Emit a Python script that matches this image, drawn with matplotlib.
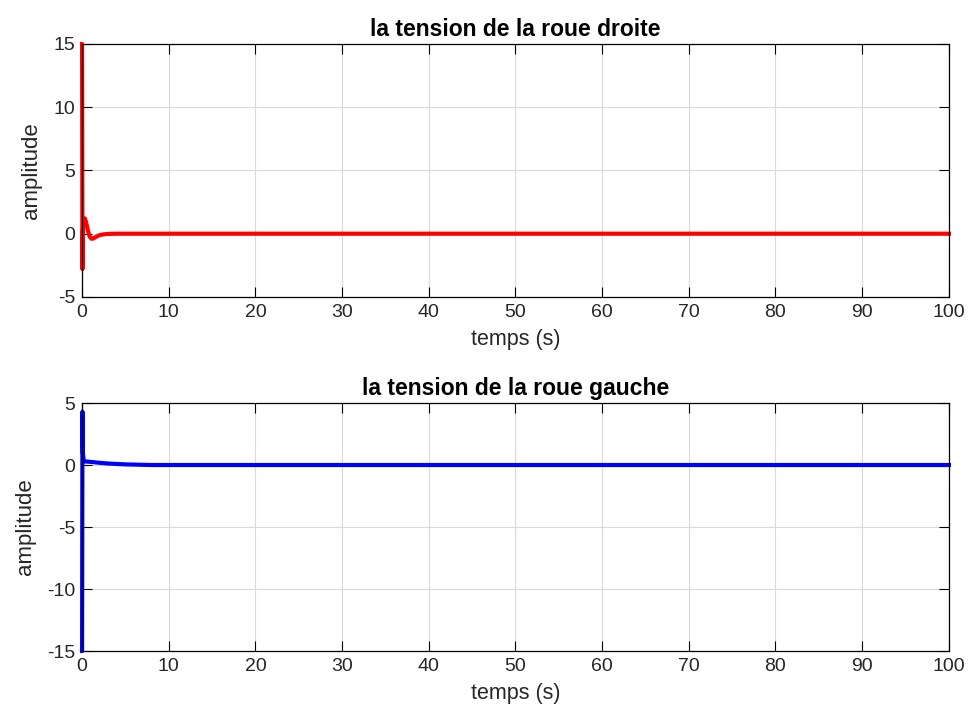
import matplotlib.pyplot as plt

plt.rcParams['font.family'] = ['Liberation Sans', 'DejaVu Sans']
plt.rcParams['axes.unicode_minus'] = False

# tension roue droite
t_droite = [0, 0.01, 0.05, 0.1, 0.2, 0.35, 0.5, 0.7, 0.9, 1.1, 1.3, 1.6, 2.0, 2.5, 3.0, 4.0, 100]
v_droite = [15, 15, -2.8, 0.3, 1.1, 1.2, 0.8, 0.2, -0.25, -0.4, -0.38, -0.25, -0.12, -0.05, -0.02, 0.0, 0.0]

# tension roue gauche
t_gauche = [0, 0.01, 0.05, 0.1, 0.2, 0.5, 1.0, 2.0, 3.0, 5.0, 8.0, 100]
v_gauche = [-15, -15, 4.3, 1.0, 0.3, 0.28, 0.25, 0.18, 0.12, 0.05, 0.0, 0.0]

xticks = list(range(0, 101, 10))

fig = plt.figure(figsize=(9.74, 7.18), dpi=100)
ax1 = fig.add_axes([0.0842, 0.5864, 0.890, 0.3524])
ax2 = fig.add_axes([0.0842, 0.0933, 0.890, 0.3454])


def style(ax, title, ylim, yticks):
    ax.set_xlim(0, 100)
    ax.set_ylim(*ylim)
    ax.set_xticks(xticks)
    ax.set_yticks(yticks)
    ax.grid(True, color='#d9d9d9', linewidth=0.8)
    ax.set_axisbelow(True)
    ax.tick_params(direction='in', top=True, right=True, length=7, width=0.8,
                   labelsize=14, colors='black', labelcolor='#262626', pad=5)
    for s in ax.spines.values():
        s.set_linewidth(0.9)
    ax.set_title(title, fontsize=16.5, fontweight='bold', pad=6)
    ax.set_xlabel('temps (s)', fontsize=15.5, labelpad=6, color='#262626')
    ax.set_ylabel('amplitude', fontsize=16, labelpad=8, color='#262626')


ax1.plot(t_droite, v_droite, color='red', linewidth=3, clip_on=False)
style(ax1, 'la tension de la roue droite', (-5, 15), [-5, 0, 5, 10, 15])

ax2.plot(t_gauche, v_gauche, color='blue', linewidth=3, clip_on=False)
style(ax2, 'la tension de la roue gauche', (-15, 5), [-15, -10, -5, 0, 5])

fig.savefig('out.png', dpi=100)
